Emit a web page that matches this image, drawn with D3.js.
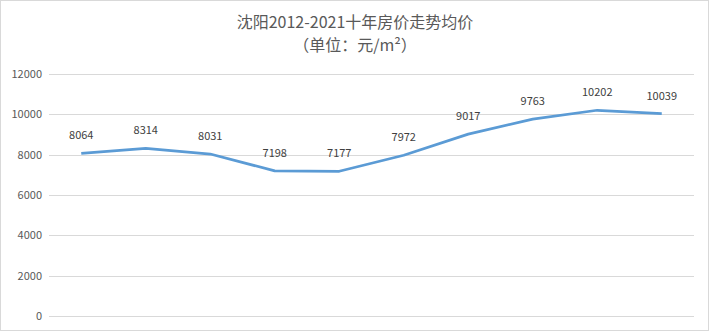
<!DOCTYPE html>
<html>
<head>
<meta charset="utf-8">
<script src="https://cdn.jsdelivr.net/npm/d3@7"></script>
<style>
  body { margin: 0; background: #fff; }
  text { font-family: "Noto Sans CJK SC", "Noto Sans", sans-serif; }
</style>
</head>
<body>
<div class="chart"></div>
<script>
var years = ["2012", "2013", "2014", "2015", "2016", "2017", "2018", "2019", "2020", "2021"];
var prices = [8064, 8314, 8031, 7198, 7177, 7972, 9017, 9763, 10202, 10039];
var yTicks = [0, 2000, 4000, 6000, 8000, 10000, 12000];

var width = 709,
    height = 331;
var margin = {top: 74, right: 15, bottom: 15, left: 49};

var svg = d3.select(".chart").append("svg")
    .attr("width", width)
    .attr("height", height);

// outer border
svg.append("rect")
    .attr("x", 0.5).attr("y", 0.5)
    .attr("width", width - 1).attr("height", height - 1)
    .attr("fill", "#fff")
    .attr("stroke", "#d9d9d9");

var x = d3.scalePoint()
    .domain(years)
    .range([margin.left, width - margin.right])
    .padding(0.5);

var y = d3.scaleLinear()
    .domain([0, 12000])
    .range([316, margin.top]);

// grid
svg.append("g")
    .selectAll("line")
    .data(yTicks)
    .enter().append("line")
    .attr("x1", margin.left)
    .attr("x2", width - margin.right)
    .attr("y1", function(d) { return Math.round(y(d)) + 0.5; })
    .attr("y2", function(d) { return Math.round(y(d)) + 0.5; })
    .attr("stroke", "#d9d9d9")
    .attr("stroke-width", 1);

var yAxis = svg.append("g")
    .attr("transform", "translate(" + margin.left + ",0)")
    .call(d3.axisLeft(y).tickValues(yTicks).tickFormat(d3.format("d")).tickSize(0).tickPadding(7));
yAxis.select(".domain").remove();
yAxis.selectAll("text")
    .attr("fill", "#595959")
    .style("font-size", "11px");

// title
svg.append("text")
    .attr("x", 355).attr("y", 28)
    .attr("text-anchor", "middle")
    .attr("fill", "#595959")
    .style("font-size", "16px")
    .text("沈阳2012-2021十年房价走势均价");
svg.append("text")
    .attr("x", 355).attr("y", 51)
    .attr("text-anchor", "middle")
    .attr("fill", "#595959")
    .style("font-size", "16px")
    .text("（单位：元/m²）");

var line = d3.line()
    .x(function(d, i) { return x(years[i]); })
    .y(function(d) { return y(d); });

svg.append("path")
    .datum(prices)
    .attr("d", line)
    .attr("fill", "none")
    .attr("stroke", "#5b9bd5")
    .attr("stroke-width", 2.75)
    .attr("stroke-linejoin", "round");

svg.append("g")
    .selectAll("text")
    .data(prices)
    .enter().append("text")
    .attr("x", function(d, i) { return x(years[i]); })
    .attr("y", function(d) { return y(d) - 14; })
    .attr("text-anchor", "middle")
    .attr("fill", "#404040")
    .style("font-size", "11px")
    .text(function(d) { return d; });
</script>
</body>
</html>
